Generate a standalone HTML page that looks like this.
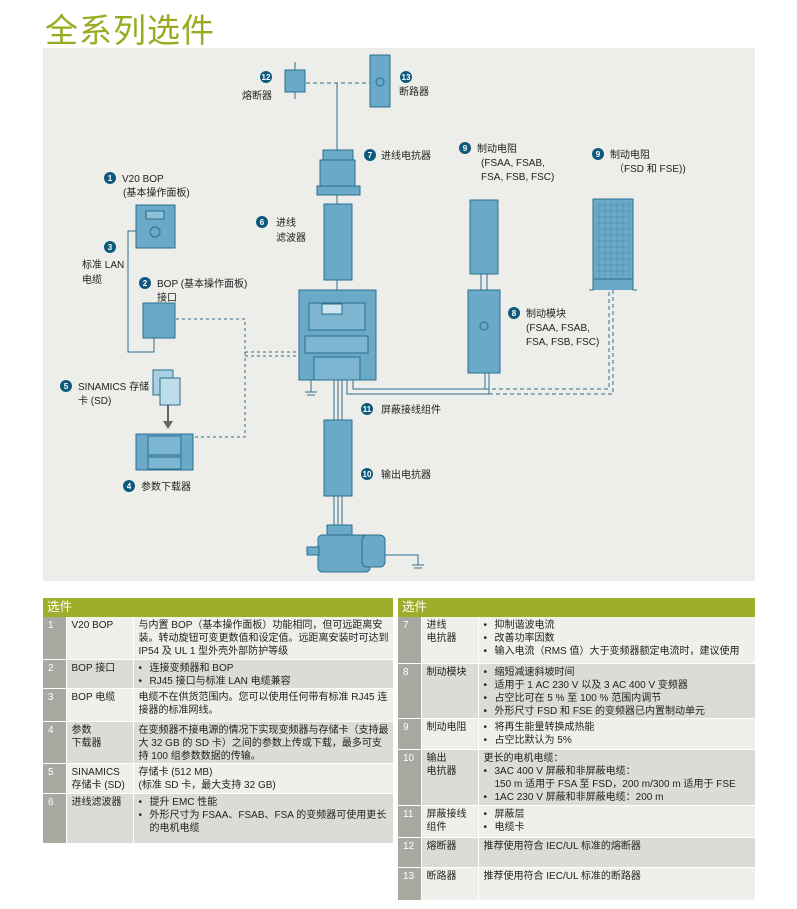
<!DOCTYPE html>
<html><head><meta charset="utf-8"><style>
*{margin:0;padding:0;box-sizing:border-box}
body{width:797px;height:909px;background:#fff;position:relative;overflow:hidden;font-family:"Liberation Sans","Noto Sans CJK SC",sans-serif;color:#222}
.title{position:absolute;left:45px;top:4px;font-size:33px;color:#9aab1f;font-family:"Noto Sans CJK SC",sans-serif;letter-spacing:1px}
svg{position:absolute;left:0;top:0}
table{position:absolute;border-collapse:collapse;font-size:10px;line-height:13px;font-family:"Liberation Sans","Noto Sans CJK SC",sans-serif;table-layout:fixed}
th{background:#9fae2a;color:#fff;text-align:left;font-weight:normal;font-size:12.5px;height:19px;padding:0 4px}
td{vertical-align:top;padding:2px 4px 0 5px;border-bottom:1px solid #fff}
td.n{background:#a9a9a2;color:#fff;border-right:1px solid #fff}
tr.a td.t,tr.a td.d{background:#efefeb}
tr.b td.t,tr.b td.d{background:#dcdcd6}
td.t{border-right:1px solid #fff}
ul{list-style:none}
li{padding-left:11px;position:relative}
li:before{content:"•";position:absolute;left:0}
</style></head><body>
<div class="title">全系列选件</div>
<svg width="797" height="600" viewBox="0 0 797 600" font-family="Liberation Sans, Noto Sans CJK SC, sans-serif" font-size="10" fill="#222">
<rect x="43" y="48" width="712" height="533" fill="#ededE9"/>
<g stroke="#2d6f8c" fill="none" stroke-width="1">
<line x1="306" y1="83" x2="370" y2="83" stroke-dasharray="4,3"/>
<line x1="337" y1="83" x2="337" y2="150"/>
<line x1="337" y1="195" x2="337" y2="204"/>
<line x1="337" y1="280" x2="337" y2="290"/>
<line x1="334" y1="380" x2="334" y2="525"/><line x1="338" y1="380" x2="338" y2="525"/><line x1="342" y1="380" x2="342" y2="525"/>
<polyline points="347,380 347,394 489,394 489,373"/>
<polyline points="353,380 353,389 485,389 485,373"/>
<polyline points="489,394 613,394 613,290" stroke-dasharray="4,3"/>
<polyline points="485,389 609,389 609,290" stroke-dasharray="4,3"/>
<line x1="481" y1="274" x2="481" y2="290"/><line x1="487" y1="274" x2="487" y2="290"/>
<polyline points="136,231 128,231 128,352 154,352 154,338"/>
<polyline points="176,319 245,319 245,437 193,437" stroke-dasharray="3,3"/>
<line x1="245" y1="352" x2="299" y2="352" stroke-dasharray="3,3"/>
<line x1="245" y1="356" x2="299" y2="356" stroke-dasharray="3,3"/>
<line x1="311" y1="380" x2="311" y2="392"/><line x1="305" y1="392" x2="317" y2="392"/><line x1="307" y1="395" x2="315" y2="395"/>
<polyline points="385,555 418,555 418,565"/><line x1="412" y1="565" x2="424" y2="565"/><line x1="414" y1="568" x2="422" y2="568"/>
</g>
<g fill="#6aaac8" stroke="#2a6f8e" stroke-width="1">
<line x1="295" y1="62" x2="295" y2="99"/>
<rect x="285" y="70" width="20" height="22"/>
<rect x="370" y="55" width="20" height="52"/>
<circle cx="380" cy="82" r="4" fill="none"/>
<rect x="323" y="150" width="30" height="11"/>
<rect x="320" y="160" width="35" height="27"/>
<rect x="317" y="186" width="43" height="9"/>
<rect x="324" y="204" width="28" height="76"/>
<rect x="299" y="290" width="77" height="90"/>
<rect x="309" y="303" width="56" height="27" fill="#7cb6d0"/>
<rect x="322" y="304" width="20" height="10" fill="#cfe6f0"/>
<rect x="305" y="336" width="63" height="17" fill="#7cb6d0"/>
<rect x="314" y="357" width="46" height="23" fill="#7cb6d0"/>
<rect x="324" y="420" width="28" height="76"/>
<rect x="327" y="525" width="25" height="10"/>
<rect x="318" y="535" width="52" height="37" rx="4"/>
<rect x="362" y="535" width="23" height="32" rx="5"/>
<rect x="307" y="547" width="12" height="8"/>
<rect x="470" y="200" width="28" height="74"/>
<rect x="468" y="290" width="32" height="83"/>
<circle cx="484" cy="326" r="4" fill="none"/>
<path d="M589 290 L593 290 L593 199 L633 199 L633 290 L637 290" />
<rect x="593" y="199" width="40" height="80"/>
<rect x="136" y="205" width="39" height="43"/>
<rect x="146" y="211" width="18" height="8" fill="#8fc2d8"/>
<circle cx="155" cy="232" r="5" fill="none"/>
<rect x="143" y="303" width="32" height="35"/>
<rect x="153" y="370" width="20" height="25" fill="#a9d0e2"/>
<rect x="160" y="378" width="20" height="27" fill="#bfdce9"/>
<rect x="136" y="434" width="57" height="36"/>
<rect x="148" y="436" width="33" height="19" fill="#7cb6d0"/>
<rect x="148" y="457" width="33" height="12" fill="#7cb6d0"/>
</g>
<g stroke="#2a6f8e" stroke-width="0.4" opacity="0.7">
<path d="M597 205 H629 M597 211 H629 M597 217 H629 M597 223 H629 M597 229 H629 M597 235 H629 M597 241 H629 M597 247 H629 M597 253 H629 M597 259 H629 M597 265 H629 M597 271 H629 M599 202 V277 M605 202 V277 M611 202 V277 M617 202 V277 M623 202 V277 M629 202 V277"/>
</g>
<path d="M168 405 V423" stroke="#666" stroke-width="2"/><path d="M163 421 L173 421 L168 429 Z" fill="#666"/>
<g fill="#0e5a7d">
<circle cx="266" cy="77" r="6"/><circle cx="406" cy="77" r="6"/><circle cx="370" cy="155" r="6"/>
<circle cx="262" cy="222" r="6"/><circle cx="465" cy="148" r="6"/><circle cx="598" cy="154" r="6"/>
<circle cx="110" cy="178" r="6"/><circle cx="110" cy="247" r="6"/><circle cx="145" cy="283" r="6"/>
<circle cx="514" cy="313" r="6"/><circle cx="66" cy="386" r="6"/><circle cx="367" cy="409" r="6"/>
<circle cx="367" cy="474" r="6"/><circle cx="129" cy="486" r="6"/>
</g>
<g fill="#fff" font-size="8" font-weight="bold" text-anchor="middle">
<text x="266" y="80">12</text><text x="406" y="80">13</text><text x="370" y="158">7</text>
<text x="262" y="225">6</text><text x="465" y="151">9</text><text x="598" y="157">9</text>
<text x="110" y="181">1</text><text x="110" y="250">3</text><text x="145" y="286">2</text>
<text x="514" y="316">8</text><text x="66" y="389">5</text><text x="367" y="412">11</text>
<text x="367" y="477">10</text><text x="129" y="489">4</text>
</g>
<text x="242" y="99">熔断器</text>
<text x="399" y="95">断路器</text>
<text x="381" y="159">进线电抗器</text>
<text x="276" y="226">进线</text><text x="276" y="241">滤波器</text>
<text x="477" y="152">制动电阻</text><text x="481" y="166">(FSAA, FSAB,</text><text x="481" y="180">FSA, FSB, FSC)</text>
<text x="610" y="158">制动电阻</text><text x="614" y="172">（FSD 和 FSE))</text>
<text x="122" y="182">V20 BOP</text><text x="123" y="196">(基本操作面板)</text>
<text x="82" y="268">标准 LAN</text><text x="82" y="283">电缆</text>
<text x="157" y="287">BOP (基本操作面板)</text><text x="157" y="301">接口</text>
<text x="526" y="317">制动模块</text><text x="526" y="331">(FSAA, FSAB,</text><text x="526" y="345">FSA, FSB, FSC)</text>
<text x="78" y="390">SINAMICS 存储</text><text x="78" y="404">卡 (SD)</text>
<text x="381" y="413">屏蔽接线组件</text>
<text x="381" y="478">输出电抗器</text>
<text x="141" y="490">参数下载器</text>
</svg>

<table style="left:43px;top:598px;width:350px">
<colgroup><col style="width:23px"><col style="width:67px"><col></colgroup>
<tr><th colspan="3">选件</th></tr>
<tr class="a" style="height:42px"><td class="n">1</td><td class="t">V20 BOP</td><td class="d">与内置 BOP（基本操作面板）功能相同，但可远距离安装。转动旋钮可变更数值和设定值。远距离安装时可达到 IP54 及 UL 1 型外壳外部防护等级</td></tr>
<tr class="b" style="height:29px"><td class="n">2</td><td class="t">BOP 接口</td><td class="d"><ul><li>连接变频器和 BOP</li><li>RJ45 接口与标准 LAN 电缆兼容</li></ul></td></tr>
<tr class="a" style="height:33px"><td class="n">3</td><td class="t">BOP 电缆</td><td class="d">电缆不在供货范围内。您可以使用任何带有标准 RJ45 连接器的标准网线。</td></tr>
<tr class="b" style="height:42px"><td class="n">4</td><td class="t">参数<br>下载器</td><td class="d">在变频器不接电源的情况下实现变频器与存储卡（支持最大 32 GB 的 SD 卡）之间的参数上传或下载，最多可支持 100 组参数数据的传输。</td></tr>
<tr class="a" style="height:30px"><td class="n">5</td><td class="t">SINAMICS 存储卡 (SD)</td><td class="d">存储卡 (512 MB)<br>(标准 SD 卡，最大支持 32 GB)</td></tr>
<tr class="b" style="height:50px"><td class="n">6</td><td class="t">进线滤波器</td><td class="d"><ul><li>提升 EMC 性能</li><li>外形尺寸为 FSAA、FSAB、FSA 的变频器可使用更长的电机电缆</li></ul></td></tr>
</table>

<table style="left:398px;top:598px;width:357px">
<colgroup><col style="width:23px"><col style="width:57px"><col></colgroup>
<tr><th colspan="3">选件</th></tr>
<tr class="a" style="height:46px"><td class="n">7</td><td class="t">进线<br>电抗器</td><td class="d"><ul><li>抑制谐波电流</li><li>改善功率因数</li><li>输入电流（RMS 值）大于变频器额定电流时，建议使用</li></ul></td></tr>
<tr class="b" style="height:55px"><td class="n">8</td><td class="t">制动模块</td><td class="d"><ul><li>缩短减速斜坡时间</li><li>适用于 1 AC 230 V 以及 3 AC 400 V 变频器</li><li>占空比可在 5 % 至 100 % 范围内调节</li><li>外形尺寸 FSD 和 FSE 的变频器已内置制动单元</li></ul></td></tr>
<tr class="a" style="height:31px"><td class="n">9</td><td class="t">制动电阻</td><td class="d"><ul><li>将再生能量转换成热能</li><li>占空比默认为 5%</li></ul></td></tr>
<tr class="b" style="height:56px"><td class="n">10</td><td class="t">输出<br>电抗器</td><td class="d">更长的电机电缆：<ul><li>3AC 400 V 屏蔽和非屏蔽电缆：<br>150 m 适用于 FSA 至 FSD，200 m/300 m 适用于 FSE</li><li>1AC 230 V 屏蔽和非屏蔽电缆：200 m</li></ul></td></tr>
<tr class="a" style="height:32px"><td class="n">11</td><td class="t">屏蔽接线<br>组件</td><td class="d"><ul><li>屏蔽层</li><li>电缆卡</li></ul></td></tr>
<tr class="b" style="height:30px"><td class="n">12</td><td class="t">熔断器</td><td class="d">推荐使用符合 IEC/UL 标准的熔断器</td></tr>
<tr class="a" style="height:33px"><td class="n">13</td><td class="t">断路器</td><td class="d">推荐使用符合 IEC/UL 标准的断路器</td></tr>
</table>
</body></html>
